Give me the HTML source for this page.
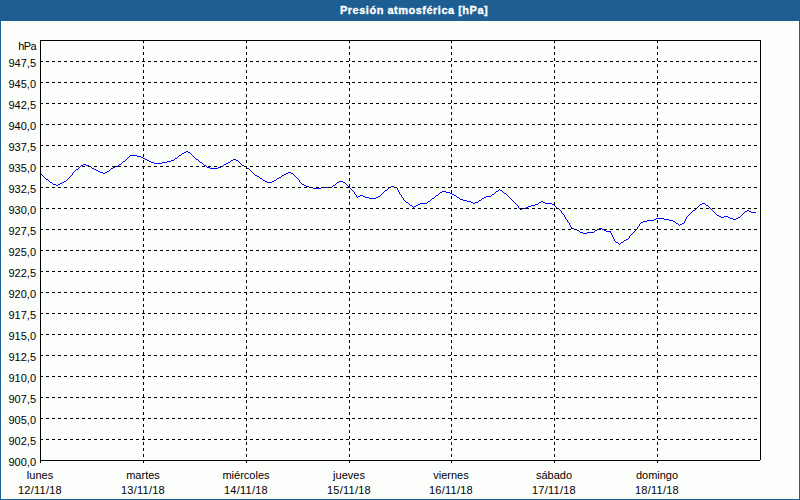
<!DOCTYPE html>
<html><head><meta charset="utf-8"><style>
html,body{margin:0;padding:0}
body{width:800px;height:500px;overflow:hidden;position:relative;background:#fcfefc;font-family:"Liberation Sans",sans-serif;font-size:11px;color:#000}
#tb{position:absolute;left:0;top:0;width:800px;height:21px;background:#1e5e92}
#tt{position:absolute;left:340px;top:3px;width:200px;white-space:nowrap;color:#fff;font-weight:bold;font-size:11px;line-height:14px;letter-spacing:0.5px;-webkit-text-stroke:0.3px #fff}
.bd{position:absolute;background:#1e5e92}
.yl{position:absolute;left:0;width:36px;text-align:right;line-height:11px;white-space:nowrap}
.xl{position:absolute;width:100px;text-align:center;line-height:14px;white-space:nowrap}
.dt{letter-spacing:0.25px}
svg{position:absolute;left:0;top:0}
</style></head><body>
<div id="tb"></div><div id="tt">Presión atmosférica [hPa]</div>
<div class="bd" style="left:0;top:0;width:1px;height:500px"></div>
<div class="bd" style="left:799px;top:0;width:1px;height:500px"></div>
<div class="bd" style="left:0;top:499px;width:800px;height:1px"></div>
<svg width="800" height="500" shape-rendering="crispEdges">
<path fill="#0000ff" d="M40 173h1v1h-1zM41 174h1v1h-1zM42 175h1v1h-1zM43 176h1v1h-1zM44 177h1v1h-1zM45 178h1v1h-1zM46 179h2v1h-2zM48 180h1v1h-1zM49 181h1v1h-1zM50 182h2v1h-2zM52 183h1v1h-1zM53 184h3v1h-3zM56 185h2v1h-2zM58 184h2v1h-2zM60 183h2v1h-2zM62 182h2v1h-2zM64 181h2v1h-2zM66 180h1v1h-1zM67 179h1v1h-1zM68 178h1v1h-1zM69 177h1v1h-1zM70 176h1v1h-1zM71 175h1v1h-1zM72 174h1v1h-1zM72 173h1v1h-1zM73 172h1v1h-1zM74 171h1v1h-1zM75 170h1v1h-1zM76 169h2v1h-2zM78 168h1v1h-1zM79 167h1v1h-1zM80 166h1v1h-1zM81 165h2v1h-2zM83 164h3v1h-3zM86 165h3v1h-3zM89 166h2v1h-2zM91 167h1v1h-1zM92 168h2v1h-2zM94 169h2v1h-2zM96 170h2v1h-2zM98 171h2v1h-2zM100 172h3v1h-3zM103 173h2v1h-2zM105 172h2v1h-2zM107 171h2v1h-2zM109 170h1v1h-1zM110 169h1v1h-1zM111 168h2v1h-2zM113 167h2v1h-2zM115 166h3v1h-3zM118 165h1v1h-1zM119 164h2v1h-2zM121 163h1v1h-1zM122 162h1v1h-1zM123 161h2v1h-2zM125 160h1v1h-1zM126 159h1v1h-1zM127 158h1v1h-1zM128 157h1v1h-1zM129 156h1v1h-1zM130 155h7v1h-7zM137 156h4v1h-4zM141 157h2v1h-2zM143 158h2v1h-2zM145 159h2v1h-2zM147 160h2v1h-2zM149 161h2v1h-2zM151 162h3v1h-3zM154 163h8v1h-8zM162 162h5v1h-5zM167 161h4v1h-4zM171 160h3v1h-3zM174 159h1v1h-1zM175 158h2v1h-2zM177 157h1v1h-1zM178 156h1v1h-1zM179 155h2v1h-2zM181 154h1v1h-1zM182 153h2v1h-2zM184 152h2v1h-2zM186 151h2v1h-2zM188 152h2v1h-2zM190 153h1v1h-1zM191 154h1v1h-1zM192 155h1v1h-1zM193 156h1v1h-1zM194 157h1v1h-1zM195 158h1v1h-1zM196 159h2v1h-2zM198 160h1v1h-1zM199 161h1v1h-1zM200 162h2v1h-2zM202 163h1v1h-1zM203 164h1v1h-1zM204 165h2v1h-2zM206 166h1v1h-1zM207 167h3v1h-3zM210 168h8v1h-8zM218 167h3v1h-3zM221 166h2v1h-2zM223 165h1v1h-1zM224 164h2v1h-2zM226 163h2v1h-2zM228 162h2v1h-2zM230 161h1v1h-1zM231 160h2v1h-2zM233 159h3v1h-3zM236 160h2v1h-2zM238 161h1v1h-1zM239 162h1v1h-1zM240 163h1v1h-1zM241 164h1v1h-1zM242 165h2v1h-2zM244 166h2v1h-2zM246 167h1v1h-1zM247 168h2v1h-2zM249 169h1v1h-1zM250 170h1v1h-1zM251 171h1v1h-1zM252 172h1v1h-1zM253 173h1v1h-1zM254 174h1v1h-1zM255 175h2v1h-2zM257 176h2v1h-2zM259 177h1v1h-1zM260 178h2v1h-2zM262 179h1v1h-1zM263 180h2v1h-2zM265 181h2v1h-2zM267 182h5v1h-5zM272 181h2v1h-2zM274 180h2v1h-2zM276 179h1v1h-1zM277 178h2v1h-2zM279 177h2v1h-2zM281 176h1v1h-1zM282 175h2v1h-2zM284 174h2v1h-2zM286 173h2v1h-2zM288 172h3v1h-3zM291 173h2v1h-2zM293 174h1v1h-1zM294 175h1v1h-1zM295 176h1v1h-1zM296 177h1v1h-1zM297 178h1v1h-1zM298 179h1v1h-1zM299 180h1v1h-1zM299 181h1v1h-1zM300 182h1v1h-1zM301 183h1v1h-1zM302 184h2v1h-2zM304 185h2v1h-2zM306 186h3v1h-3zM309 187h4v1h-4zM313 188h8v1h-8zM321 187h11v1h-11zM332 186h1v1h-1zM333 185h2v1h-2zM335 184h1v1h-1zM336 183h1v1h-1zM337 182h2v1h-2zM339 181h4v1h-4zM343 182h2v1h-2zM345 183h1v1h-1zM346 184h1v1h-1zM347 185h1v1h-1zM348 186h1v1h-1zM349 187h1v1h-1zM350 188h1v1h-1zM351 189h1v1h-1zM352 190h1v1h-1zM353 191h1v1h-1zM354 192h1v1h-1zM354 193h1v1h-1zM355 194h1v1h-1zM356 195h1v1h-1zM356 196h1v1h-1zM357 197h1v1h-1zM358 196h2v1h-2zM360 195h3v1h-3zM363 196h2v1h-2zM365 197h4v1h-4zM369 198h7v1h-7zM376 197h2v1h-2zM378 196h2v1h-2zM380 195h1v1h-1zM381 194h1v1h-1zM382 193h1v1h-1zM383 192h1v1h-1zM384 191h1v1h-1zM385 190h2v1h-2zM387 189h1v1h-1zM388 188h1v1h-1zM389 187h2v1h-2zM391 186h3v1h-3zM394 187h3v1h-3zM397 188h1v1h-1zM397 189h1v1h-1zM398 190h1v1h-1zM398 191h1v1h-1zM399 192h1v1h-1zM399 193h1v1h-1zM400 194h1v1h-1zM401 195h1v1h-1zM401 196h1v1h-1zM402 197h1v1h-1zM403 198h1v1h-1zM403 199h1v1h-1zM404 200h1v1h-1zM405 201h1v1h-1zM406 202h2v1h-2zM408 203h1v1h-1zM409 204h1v1h-1zM410 205h2v1h-2zM412 206h1v1h-1zM413 207h1v1h-1zM414 206h2v1h-2zM416 205h2v1h-2zM418 204h2v1h-2zM420 203h7v1h-7zM427 202h1v1h-1zM428 201h2v1h-2zM430 200h1v1h-1zM431 199h1v1h-1zM432 198h2v1h-2zM434 197h1v1h-1zM435 196h1v1h-1zM436 195h2v1h-2zM438 194h1v1h-1zM439 193h1v1h-1zM440 192h2v1h-2zM442 191h4v1h-4zM446 192h4v1h-4zM450 193h2v1h-2zM452 194h2v1h-2zM454 195h2v1h-2zM456 196h1v1h-1zM457 197h2v1h-2zM459 198h1v1h-1zM460 199h3v1h-3zM463 200h4v1h-4zM467 201h4v1h-4zM471 202h2v1h-2zM473 203h2v1h-2zM475 202h3v1h-3zM478 201h1v1h-1zM479 200h2v1h-2zM481 199h1v1h-1zM482 198h2v1h-2zM484 197h2v1h-2zM486 196h5v1h-5zM491 195h1v1h-1zM492 194h2v1h-2zM494 193h1v1h-1zM495 192h1v1h-1zM496 191h2v1h-2zM498 190h1v1h-1zM499 189h1v1h-1zM500 190h2v1h-2zM502 191h1v1h-1zM503 192h1v1h-1zM504 193h2v1h-2zM506 194h1v1h-1zM507 195h1v1h-1zM508 196h1v1h-1zM509 197h1v1h-1zM510 198h1v1h-1zM511 199h1v1h-1zM512 200h1v1h-1zM513 201h1v1h-1zM514 202h1v1h-1zM515 203h1v1h-1zM516 204h1v1h-1zM517 205h1v1h-1zM518 206h1v1h-1zM518 207h1v1h-1zM519 208h1v1h-1zM520 209h2v1h-2zM522 208h4v1h-4zM526 207h2v1h-2zM528 206h3v1h-3zM531 205h4v1h-4zM535 204h3v1h-3zM538 203h1v1h-1zM539 202h2v1h-2zM541 201h2v1h-2zM543 202h2v1h-2zM545 203h7v1h-7zM552 204h2v1h-2zM554 205h1v1h-1zM555 206h1v1h-1zM556 207h1v1h-1zM557 208h2v1h-2zM559 209h1v1h-1zM560 210h1v1h-1zM561 211h1v1h-1zM561 212h1v1h-1zM562 213h1v1h-1zM563 214h1v1h-1zM564 215h1v1h-1zM564 216h1v1h-1zM565 217h1v1h-1zM565 218h1v1h-1zM566 219h1v1h-1zM567 220h1v1h-1zM567 221h1v1h-1zM568 222h1v1h-1zM569 223h1v1h-1zM569 224h1v1h-1zM570 225h1v1h-1zM570 226h1v1h-1zM571 227h1v1h-1zM571 228h3v1h-3zM574 229h3v1h-3zM577 230h2v1h-2zM579 231h1v1h-1zM580 232h3v1h-3zM583 233h4v1h-4zM587 232h7v1h-7zM594 231h1v1h-1zM595 230h2v1h-2zM597 229h2v1h-2zM599 228h3v1h-3zM602 229h2v1h-2zM604 230h2v1h-2zM606 231h5v1h-5zM610 232h1v1h-1zM611 233h1v1h-1zM611 234h1v1h-1zM612 235h1v1h-1zM612 236h1v1h-1zM613 237h1v1h-1zM613 238h1v1h-1zM614 239h1v1h-1zM614 240h1v1h-1zM615 241h1v1h-1zM616 242h2v1h-2zM618 243h1v1h-1zM619 244h1v1h-1zM620 243h1v1h-1zM621 242h2v1h-2zM623 241h1v1h-1zM624 240h2v1h-2zM626 239h2v1h-2zM628 238h1v1h-1zM629 237h1v1h-1zM629 236h1v1h-1zM630 235h1v1h-1zM631 234h1v1h-1zM632 233h1v1h-1zM633 232h1v1h-1zM634 231h1v1h-1zM635 230h1v1h-1zM636 229h1v1h-1zM637 228h1v1h-1zM637 227h1v1h-1zM638 226h1v1h-1zM639 225h1v1h-1zM639 224h1v1h-1zM640 223h1v1h-1zM641 222h2v1h-2zM643 221h4v1h-4zM647 220h7v1h-7zM654 219h2v1h-2zM656 218h8v1h-8zM664 219h5v1h-5zM669 220h4v1h-4zM673 221h2v1h-2zM675 222h1v1h-1zM676 223h2v1h-2zM678 224h1v1h-1zM679 225h1v1h-1zM680 224h2v1h-2zM682 223h2v1h-2zM684 222h1v1h-1zM684 221h1v1h-1zM685 220h1v1h-1zM685 219h1v1h-1zM686 218h1v1h-1zM686 217h1v1h-1zM687 216h1v1h-1zM688 215h1v1h-1zM689 214h1v1h-1zM690 213h1v1h-1zM691 212h1v1h-1zM692 211h1v1h-1zM693 210h2v1h-2zM695 209h1v1h-1zM696 208h1v1h-1zM697 207h1v1h-1zM698 206h1v1h-1zM699 205h1v1h-1zM700 204h2v1h-2zM702 203h3v1h-3zM705 204h1v1h-1zM706 205h2v1h-2zM708 206h1v1h-1zM709 207h1v1h-1zM710 208h1v1h-1zM711 209h1v1h-1zM712 210h1v1h-1zM713 211h1v1h-1zM714 212h1v1h-1zM715 213h1v1h-1zM716 214h1v1h-1zM717 215h2v1h-2zM719 216h2v1h-2zM721 217h3v1h-3zM724 216h4v1h-4zM728 217h2v1h-2zM730 218h3v1h-3zM733 219h3v1h-3zM736 218h2v1h-2zM738 217h2v1h-2zM740 216h1v1h-1zM741 215h1v1h-1zM742 214h1v1h-1zM743 213h1v1h-1zM744 212h1v1h-1zM745 211h2v1h-2zM747 210h2v1h-2zM749 211h2v1h-2zM751 212h5v1h-5z"/>
<g stroke="#000" stroke-width="1" stroke-dasharray="3 3" fill="none">
<line x1="40" y1="61.5" x2="760" y2="61.5"/>
<line x1="40" y1="82.5" x2="760" y2="82.5"/>
<line x1="40" y1="103.5" x2="760" y2="103.5"/>
<line x1="40" y1="124.5" x2="760" y2="124.5"/>
<line x1="40" y1="145.5" x2="760" y2="145.5"/>
<line x1="40" y1="166.5" x2="760" y2="166.5"/>
<line x1="40" y1="187.5" x2="760" y2="187.5"/>
<line x1="40" y1="208.5" x2="760" y2="208.5"/>
<line x1="40" y1="229.5" x2="760" y2="229.5"/>
<line x1="40" y1="250.5" x2="760" y2="250.5"/>
<line x1="40" y1="271.5" x2="760" y2="271.5"/>
<line x1="40" y1="292.5" x2="760" y2="292.5"/>
<line x1="40" y1="313.5" x2="760" y2="313.5"/>
<line x1="40" y1="334.5" x2="760" y2="334.5"/>
<line x1="40" y1="355.5" x2="760" y2="355.5"/>
<line x1="40" y1="376.5" x2="760" y2="376.5"/>
<line x1="40" y1="397.5" x2="760" y2="397.5"/>
<line x1="40" y1="418.5" x2="760" y2="418.5"/>
<line x1="40" y1="439.5" x2="760" y2="439.5"/>
<line x1="143.5" y1="40" x2="143.5" y2="460"/>
<line x1="246.5" y1="40" x2="246.5" y2="460"/>
<line x1="349.5" y1="40" x2="349.5" y2="460"/>
<line x1="451.5" y1="40" x2="451.5" y2="460"/>
<line x1="554.5" y1="40" x2="554.5" y2="460"/>
<line x1="657.5" y1="40" x2="657.5" y2="460"/>
</g>
<path fill="#000" d="M40 40h721v1h-721zM40 41h1v420h-1zM760 41h1v419h-1zM41 460h719v1h-719zM40 461h1v2h-1zM143 461h1v2h-1zM246 461h1v2h-1zM349 461h1v2h-1zM451 461h1v2h-1zM554 461h1v2h-1zM657 461h1v2h-1z"/>
</svg>
<div class="yl" style="top:41px;letter-spacing:-0.6px">hPa</div>
<div class="yl" style="top:58px">947,5</div>
<div class="yl" style="top:79px">945,0</div>
<div class="yl" style="top:100px">942,5</div>
<div class="yl" style="top:121px">940,0</div>
<div class="yl" style="top:142px">937,5</div>
<div class="yl" style="top:163px">935,0</div>
<div class="yl" style="top:184px">932,5</div>
<div class="yl" style="top:205px">930,0</div>
<div class="yl" style="top:226px">927,5</div>
<div class="yl" style="top:247px">925,0</div>
<div class="yl" style="top:268px">922,5</div>
<div class="yl" style="top:289px">920,0</div>
<div class="yl" style="top:310px">917,5</div>
<div class="yl" style="top:331px">915,0</div>
<div class="yl" style="top:352px">912,5</div>
<div class="yl" style="top:373px">910,0</div>
<div class="yl" style="top:394px">907,5</div>
<div class="yl" style="top:415px">905,0</div>
<div class="yl" style="top:436px">902,5</div>
<div class="yl" style="top:457px">900,0</div>
<div class="xl" style="left:-10px;top:468px">lunes</div><div class="xl dt" style="left:-10px;top:483px">12/11/18</div>
<div class="xl" style="left:93px;top:468px">martes</div><div class="xl dt" style="left:93px;top:483px">13/11/18</div>
<div class="xl" style="left:196px;top:468px">miércoles</div><div class="xl dt" style="left:196px;top:483px">14/11/18</div>
<div class="xl" style="left:299px;top:468px">jueves</div><div class="xl dt" style="left:299px;top:483px">15/11/18</div>
<div class="xl" style="left:401px;top:468px">viernes</div><div class="xl dt" style="left:401px;top:483px">16/11/18</div>
<div class="xl" style="left:504px;top:468px">sábado</div><div class="xl dt" style="left:504px;top:483px">17/11/18</div>
<div class="xl" style="left:607px;top:468px">domingo</div><div class="xl dt" style="left:607px;top:483px">18/11/18</div>
</body></html>
